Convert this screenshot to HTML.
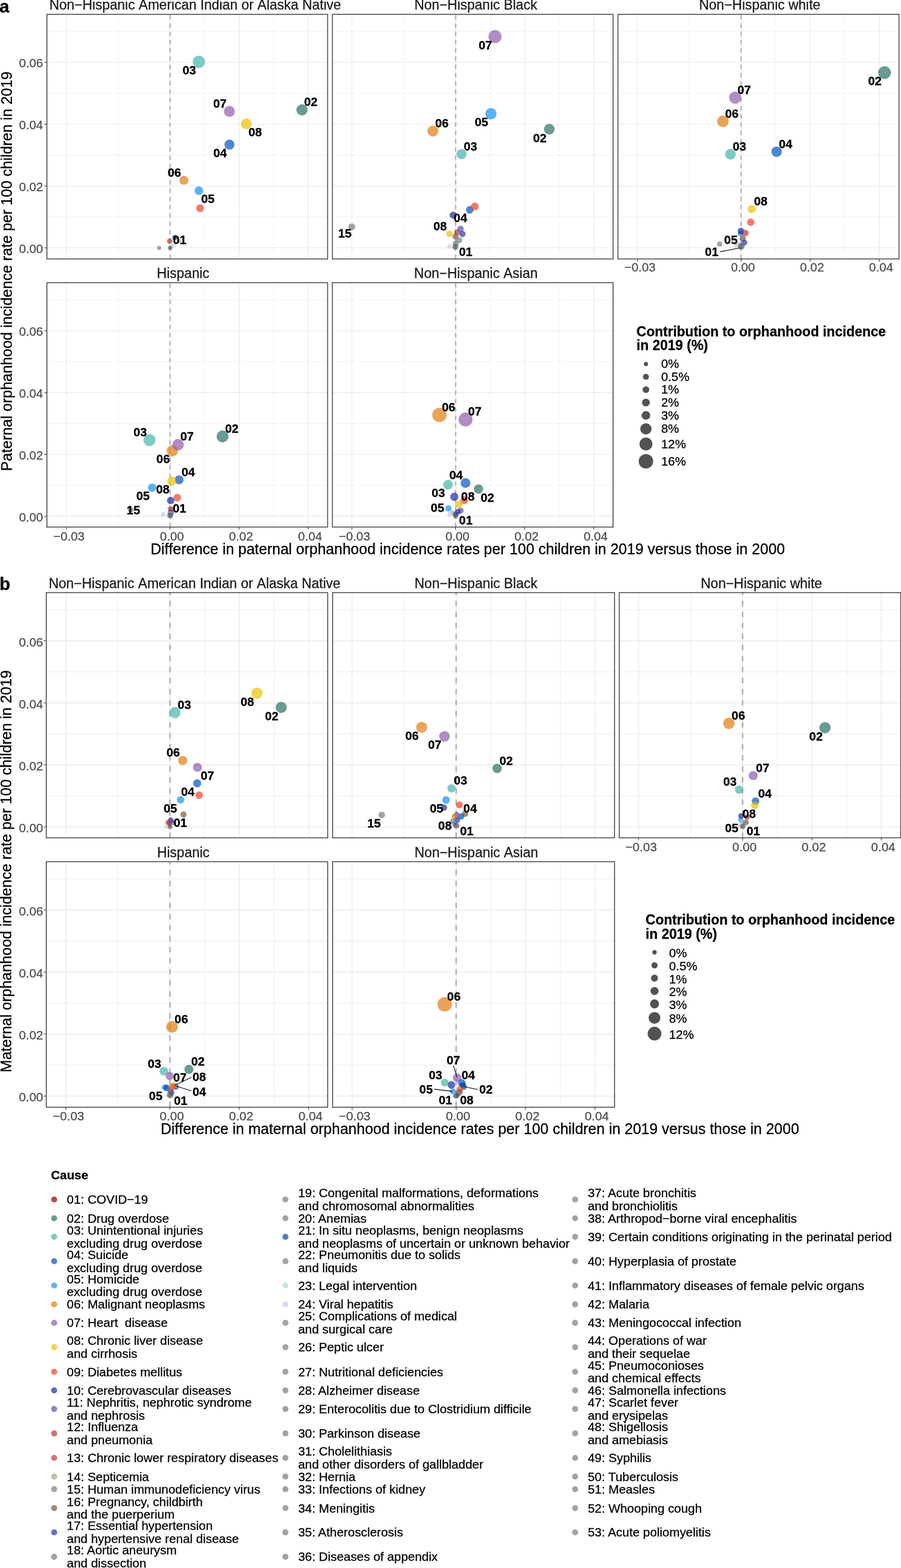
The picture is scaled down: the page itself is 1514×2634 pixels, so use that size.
<!DOCTYPE html>
<html lang="en"><head><meta charset="utf-8"><title>Orphanhood incidence by cause</title>
<style>html,body{margin:0;padding:0;background:#fff}body{width:1514px;height:2634px;overflow:hidden}svg{display:block}text{font-family:"Liberation Sans", Arial, Helvetica, sans-serif;font-kerning:none}.k{font-kerning:auto}</style>
</head><body>
<svg width="1514" height="2634" viewBox="0 0 1514 2634" font-family='"Liberation Sans", Arial, Helvetica, sans-serif'>
<rect width="1514" height="2634" fill="#fff"/>
<g>
<rect x="78.8" y="24.1" width="471.7" height="410.9" fill="#fff"/>
<path d="M78.8 364.38H550.5M78.8 260.54H550.5M78.8 156.7H550.5M78.8 52.86H550.5M198.62 24.1V435M343.75 24.1V435M459.85 24.1V435" stroke="#ebebeb" stroke-width="0.7" fill="none"/>
<path d="M78.8 416.3H550.5M78.8 312.46H550.5M78.8 208.62H550.5M78.8 104.78H550.5M111.55 24.1V435M285.7 24.1V435M401.8 24.1V435M517.9 24.1V435" stroke="#ebebeb" stroke-width="1.35" fill="none"/>
<path d="M285.8 24.1V435" stroke="#adadad" stroke-width="2.1" stroke-dasharray="7.45 6.42" stroke-dashoffset="-1.24" fill="none"/>
<circle cx="334.2" cy="103.8" r="10.4" fill="#44b5ac" fill-opacity="0.7"/>
<circle cx="385.4" cy="187" r="9.2" fill="#925bab" fill-opacity="0.7"/>
<circle cx="507.4" cy="184.6" r="9.4" fill="#2a6f65" fill-opacity="0.7"/>
<circle cx="413.8" cy="208.1" r="9" fill="#eebf00" fill-opacity="0.7"/>
<circle cx="385.6" cy="243" r="8.4" fill="#0455bc" fill-opacity="0.7"/>
<circle cx="309" cy="302.8" r="7.6" fill="#e27e10" fill-opacity="0.7"/>
<circle cx="334.2" cy="320.3" r="7.2" fill="#1692f4" fill-opacity="0.7"/>
<circle cx="336.2" cy="349.8" r="6.6" fill="#ee422c" fill-opacity="0.7"/>
<circle cx="300.5" cy="404.6" r="3.5" fill="#b29f8b" fill-opacity="0.7"/>
<circle cx="293.9" cy="398.9" r="4.5" fill="#1a2da1" fill-opacity="0.7"/>
<circle cx="285.2" cy="405" r="4.5" fill="#b83738" fill-opacity="0.7"/>
<circle cx="291.4" cy="412" r="4" fill="#acded1" fill-opacity="0.7"/>
<circle cx="267.3" cy="416.4" r="3.4" fill="#7c7c7c" fill-opacity="0.7"/>
<circle cx="285.9" cy="416.4" r="3.6" fill="#565656" fill-opacity="0.7"/>
<text x="306.7" y="125" font-size="20.4" fill="#000" stroke="#000" stroke-width="0.3" font-weight="bold">03</text>
<text x="358.2" y="180.8" font-size="20.4" fill="#000" stroke="#000" stroke-width="0.3" font-weight="bold">07</text>
<text x="511" y="178.3" font-size="20.4" fill="#000" stroke="#000" stroke-width="0.3" font-weight="bold">02</text>
<text x="417.5" y="229.3" font-size="20.4" fill="#000" stroke="#000" stroke-width="0.3" font-weight="bold">08</text>
<text x="358.5" y="264.3" font-size="20.4" fill="#000" stroke="#000" stroke-width="0.3" font-weight="bold">04</text>
<text x="281.7" y="296.8" font-size="20.4" fill="#000" stroke="#000" stroke-width="0.3" font-weight="bold">06</text>
<text x="338" y="341.3" font-size="20.4" fill="#000" stroke="#000" stroke-width="0.3" font-weight="bold">05</text>
<text x="290.6" y="410.1" font-size="20.4" fill="#000" stroke="#000" stroke-width="0.3" font-weight="bold">01</text>
<rect x="78.8" y="24.1" width="471.7" height="410.9" fill="none" stroke="#444444" stroke-width="1.5"/>
<text x="72.4" y="424.9" font-size="20.8" fill="#4d4d4d" stroke="#4d4d4d" stroke-width="0.3" text-anchor="end">0.00</text>
<text x="72.4" y="321.06" font-size="20.8" fill="#4d4d4d" stroke="#4d4d4d" stroke-width="0.3" text-anchor="end">0.02</text>
<text x="72.4" y="217.22" font-size="20.8" fill="#4d4d4d" stroke="#4d4d4d" stroke-width="0.3" text-anchor="end">0.04</text>
<text x="72.4" y="113.38" font-size="20.8" fill="#4d4d4d" stroke="#4d4d4d" stroke-width="0.3" text-anchor="end">0.06</text>
<path d="M74.4 416.3H78.8M74.4 312.46H78.8M74.4 208.62H78.8M74.4 104.78H78.8" stroke="#333333" stroke-width="1.1" fill="none"/>
</g>
<g>
<rect x="558.5" y="24.1" width="471.7" height="410.9" fill="#fff"/>
<path d="M558.5 364.38H1030.2M558.5 260.54H1030.2M558.5 156.7H1030.2M558.5 52.86H1030.2M678.42 24.1V435M823.55 24.1V435M939.65 24.1V435" stroke="#ebebeb" stroke-width="0.7" fill="none"/>
<path d="M558.5 416.3H1030.2M558.5 312.46H1030.2M558.5 208.62H1030.2M558.5 104.78H1030.2M591.35 24.1V435M765.5 24.1V435M881.6 24.1V435M997.7 24.1V435" stroke="#ebebeb" stroke-width="1.35" fill="none"/>
<path d="M765.6 24.1V435" stroke="#adadad" stroke-width="2.1" stroke-dasharray="7.45 6.42" stroke-dashoffset="-1.24" fill="none"/>
<circle cx="831.8" cy="61.5" r="11" fill="#925bab" fill-opacity="0.7"/>
<circle cx="825" cy="191" r="9.5" fill="#1692f4" fill-opacity="0.7"/>
<circle cx="727.5" cy="220.3" r="9.25" fill="#e27e10" fill-opacity="0.7"/>
<circle cx="923" cy="217" r="9" fill="#2a6f65" fill-opacity="0.7"/>
<circle cx="775.5" cy="259" r="8.5" fill="#44b5ac" fill-opacity="0.7"/>
<circle cx="789.3" cy="352.5" r="6.4" fill="#0455bc" fill-opacity="0.7"/>
<circle cx="797.8" cy="346.8" r="6.6" fill="#ee422c" fill-opacity="0.7"/>
<circle cx="761.5" cy="361.5" r="6" fill="#1a2da1" fill-opacity="0.7"/>
<circle cx="591.2" cy="381" r="5.8" fill="#7c7c7c" fill-opacity="0.7"/>
<circle cx="773.8" cy="384.4" r="5.5" fill="#5952b0" fill-opacity="0.7"/>
<circle cx="755.4" cy="392.6" r="5.4" fill="#eebf00" fill-opacity="0.7"/>
<circle cx="768" cy="390.3" r="5" fill="#b83738" fill-opacity="0.7"/>
<circle cx="777.1" cy="393.1" r="5.3" fill="#2737ab" fill-opacity="0.7"/>
<circle cx="765.6" cy="397.2" r="5.3" fill="#7c5942" fill-opacity="0.7"/>
<circle cx="771.9" cy="403.5" r="5" fill="#7c7c7c" fill-opacity="0.7"/>
<circle cx="765.9" cy="409.1" r="5" fill="#658380" fill-opacity="0.7"/>
<circle cx="755.4" cy="414.2" r="3.8" fill="#c9caea" fill-opacity="0.7"/>
<circle cx="765.1" cy="414.6" r="5" fill="#565656" fill-opacity="0.7"/>
<text x="804.2" y="82.5" font-size="20.4" fill="#000" stroke="#000" stroke-width="0.3" font-weight="bold">07</text>
<text x="797.7" y="212" font-size="20.4" fill="#000" stroke="#000" stroke-width="0.3" font-weight="bold">05</text>
<text x="731.2" y="214" font-size="20.4" fill="#000" stroke="#000" stroke-width="0.3" font-weight="bold">06</text>
<text x="779.2" y="252.5" font-size="20.4" fill="#000" stroke="#000" stroke-width="0.3" font-weight="bold">03</text>
<text x="895.7" y="238.5" font-size="20.4" fill="#000" stroke="#000" stroke-width="0.3" font-weight="bold">02</text>
<text x="762.3" y="373.4" font-size="20.4" fill="#000" stroke="#000" stroke-width="0.3" font-weight="bold">04</text>
<text x="728.2" y="386.5" font-size="20.4" fill="#000" stroke="#000" stroke-width="0.3" font-weight="bold">08</text>
<text x="568.2" y="399.4" font-size="20.4" fill="#000" stroke="#000" stroke-width="0.3" font-weight="bold">15</text>
<text x="771.2" y="429.7" font-size="20.4" fill="#000" stroke="#000" stroke-width="0.3" font-weight="bold">01</text>
<rect x="558.5" y="24.1" width="471.7" height="410.9" fill="none" stroke="#444444" stroke-width="1.5"/>
</g>
<g>
<rect x="1038.4" y="24.1" width="472.2" height="410.9" fill="#fff"/>
<path d="M1038.4 364.38H1510.6M1038.4 260.54H1510.6M1038.4 156.7H1510.6M1038.4 52.86H1510.6M1158.12 24.1V435M1303.25 24.1V435M1419.35 24.1V435" stroke="#ebebeb" stroke-width="0.7" fill="none"/>
<path d="M1038.4 416.3H1510.6M1038.4 312.46H1510.6M1038.4 208.62H1510.6M1038.4 104.78H1510.6M1071.05 24.1V435M1245.2 24.1V435M1361.3 24.1V435M1477.4 24.1V435" stroke="#ebebeb" stroke-width="1.35" fill="none"/>
<path d="M1245.3 24.1V435" stroke="#adadad" stroke-width="2.1" stroke-dasharray="7.45 6.42" stroke-dashoffset="-1.24" fill="none"/>
<circle cx="1486.3" cy="122" r="10.75" fill="#2a6f65" fill-opacity="0.7"/>
<circle cx="1235.3" cy="164" r="10.25" fill="#925bab" fill-opacity="0.7"/>
<circle cx="1214.8" cy="203.8" r="9.75" fill="#e27e10" fill-opacity="0.7"/>
<circle cx="1227.5" cy="259" r="8.9" fill="#44b5ac" fill-opacity="0.7"/>
<circle cx="1305" cy="254.8" r="8.9" fill="#0455bc" fill-opacity="0.7"/>
<circle cx="1263.2" cy="351.3" r="6.8" fill="#eebf00" fill-opacity="0.7"/>
<circle cx="1261.5" cy="373.3" r="6.2" fill="#ee422c" fill-opacity="0.7"/>
<circle cx="1244.8" cy="392.5" r="5" fill="#1692f4" fill-opacity="0.7"/>
<circle cx="1245" cy="388" r="5.5" fill="#1a2da1" fill-opacity="0.7"/>
<circle cx="1252.7" cy="391.4" r="5.3" fill="#b83738" fill-opacity="0.7"/>
<circle cx="1248.2" cy="400.7" r="5.3" fill="#7c5942" fill-opacity="0.7"/>
<circle cx="1251" cy="407.6" r="4.8" fill="#2737ab" fill-opacity="0.7"/>
<circle cx="1243.4" cy="411" r="4.5" fill="#95bad3" fill-opacity="0.7"/>
<circle cx="1237.6" cy="412.4" r="4" fill="#c9caea" fill-opacity="0.7"/>
<circle cx="1209.3" cy="410.1" r="4.5" fill="#7c7c7c" fill-opacity="0.7"/>
<circle cx="1245.7" cy="413.8" r="5.5" fill="#565656" fill-opacity="0.7"/>
<path d="M1209.9 422.9L1244.8 416.3" stroke="#000" stroke-width="1.1" fill="none"/>
<text x="1458.7" y="143.3" font-size="20.4" fill="#000" stroke="#000" stroke-width="0.3" font-weight="bold">02</text>
<text x="1239.2" y="158" font-size="20.4" fill="#000" stroke="#000" stroke-width="0.3" font-weight="bold">07</text>
<text x="1218.5" y="197.8" font-size="20.4" fill="#000" stroke="#000" stroke-width="0.3" font-weight="bold">06</text>
<text x="1231.2" y="253" font-size="20.4" fill="#000" stroke="#000" stroke-width="0.3" font-weight="bold">03</text>
<text x="1308.7" y="249" font-size="20.4" fill="#000" stroke="#000" stroke-width="0.3" font-weight="bold">04</text>
<text x="1267" y="344.7" font-size="20.4" fill="#000" stroke="#000" stroke-width="0.3" font-weight="bold">08</text>
<text x="1216.8" y="409.7" font-size="20.4" fill="#000" stroke="#000" stroke-width="0.3" font-weight="bold">05</text>
<text x="1184.6" y="430" font-size="20.4" fill="#000" stroke="#000" stroke-width="0.3" font-weight="bold">01</text>
<rect x="1038.4" y="24.1" width="472.2" height="410.9" fill="none" stroke="#444444" stroke-width="1.5"/>
<text x="1075.35" y="456" font-size="20.8" fill="#4d4d4d" stroke="#4d4d4d" stroke-width="0.3" text-anchor="middle">−0.03</text>
<text x="1248.4" y="456" font-size="20.8" fill="#4d4d4d" stroke="#4d4d4d" stroke-width="0.3" text-anchor="middle">0.00</text>
<text x="1364.5" y="456" font-size="20.8" fill="#4d4d4d" stroke="#4d4d4d" stroke-width="0.3" text-anchor="middle">0.02</text>
<text x="1480.6" y="456" font-size="20.8" fill="#4d4d4d" stroke="#4d4d4d" stroke-width="0.3" text-anchor="middle">0.04</text>
<path d="M1071.05 435V439.4M1245.2 435V439.4M1361.3 435V439.4M1477.4 435V439.4" stroke="#333333" stroke-width="1.1" fill="none"/>
</g>
<g>
<rect x="78.8" y="474.8" width="471.7" height="410.6" fill="#fff"/>
<path d="M78.8 815.28H550.5M78.8 711.44H550.5M78.8 607.6H550.5M78.8 503.76H550.5M198.62 474.8V885.4M343.75 474.8V885.4M459.85 474.8V885.4" stroke="#ebebeb" stroke-width="0.7" fill="none"/>
<path d="M78.8 867.2H550.5M78.8 763.36H550.5M78.8 659.52H550.5M78.8 555.68H550.5M111.55 474.8V885.4M285.7 474.8V885.4M401.8 474.8V885.4M517.9 474.8V885.4" stroke="#ebebeb" stroke-width="1.35" fill="none"/>
<path d="M285.8 474.8V885.4" stroke="#adadad" stroke-width="2.1" stroke-dasharray="7.45 6.42" stroke-dashoffset="-1.24" fill="none"/>
<circle cx="251.2" cy="739.3" r="10.1" fill="#44b5ac" fill-opacity="0.7"/>
<circle cx="374" cy="733.1" r="10.1" fill="#2a6f65" fill-opacity="0.7"/>
<circle cx="289.7" cy="757.3" r="9.5" fill="#e27e10" fill-opacity="0.7"/>
<circle cx="299.2" cy="747" r="9.7" fill="#925bab" fill-opacity="0.7"/>
<circle cx="301" cy="805.9" r="7.5" fill="#0455bc" fill-opacity="0.7"/>
<circle cx="288.7" cy="808.1" r="7.5" fill="#eebf00" fill-opacity="0.7"/>
<circle cx="255.8" cy="819.3" r="7.1" fill="#1692f4" fill-opacity="0.7"/>
<circle cx="298.1" cy="836" r="6.4" fill="#ee422c" fill-opacity="0.7"/>
<circle cx="286.8" cy="840.8" r="6.25" fill="#1a2da1" fill-opacity="0.7"/>
<circle cx="219.6" cy="856.7" r="4.8" fill="#7c7c7c" fill-opacity="0.7"/>
<circle cx="287" cy="855.2" r="5" fill="#b83738" fill-opacity="0.7"/>
<circle cx="287" cy="861.1" r="5.2" fill="#2737ab" fill-opacity="0.7"/>
<circle cx="274.2" cy="864.5" r="4" fill="#c9caea" fill-opacity="0.7"/>
<circle cx="286" cy="863" r="4.5" fill="#95bad3" fill-opacity="0.7"/>
<circle cx="286" cy="866" r="5" fill="#565656" fill-opacity="0.7"/>
<text x="224.2" y="733.2" font-size="20.4" fill="#000" stroke="#000" stroke-width="0.3" font-weight="bold">03</text>
<text x="378.2" y="726.6" font-size="20.4" fill="#000" stroke="#000" stroke-width="0.3" font-weight="bold">02</text>
<text x="302.9" y="740.4" font-size="20.4" fill="#000" stroke="#000" stroke-width="0.3" font-weight="bold">07</text>
<text x="262.8" y="778.1" font-size="20.4" fill="#000" stroke="#000" stroke-width="0.3" font-weight="bold">06</text>
<text x="305" y="799.7" font-size="20.4" fill="#000" stroke="#000" stroke-width="0.3" font-weight="bold">04</text>
<text x="262.2" y="829.4" font-size="20.4" fill="#000" stroke="#000" stroke-width="0.3" font-weight="bold">08</text>
<text x="228.9" y="840.1" font-size="20.4" fill="#000" stroke="#000" stroke-width="0.3" font-weight="bold">05</text>
<text x="212.8" y="864.3" font-size="20.4" fill="#000" stroke="#000" stroke-width="0.3" font-weight="bold">15</text>
<text x="290.2" y="860.7" font-size="20.4" fill="#000" stroke="#000" stroke-width="0.3" font-weight="bold">01</text>
<rect x="78.8" y="474.8" width="471.7" height="410.6" fill="none" stroke="#444444" stroke-width="1.5"/>
<text x="72.4" y="875.8" font-size="20.8" fill="#4d4d4d" stroke="#4d4d4d" stroke-width="0.3" text-anchor="end">0.00</text>
<text x="72.4" y="771.96" font-size="20.8" fill="#4d4d4d" stroke="#4d4d4d" stroke-width="0.3" text-anchor="end">0.02</text>
<text x="72.4" y="668.12" font-size="20.8" fill="#4d4d4d" stroke="#4d4d4d" stroke-width="0.3" text-anchor="end">0.04</text>
<text x="72.4" y="564.28" font-size="20.8" fill="#4d4d4d" stroke="#4d4d4d" stroke-width="0.3" text-anchor="end">0.06</text>
<path d="M74.4 867.2H78.8M74.4 763.36H78.8M74.4 659.52H78.8M74.4 555.68H78.8" stroke="#333333" stroke-width="1.1" fill="none"/>
<text x="115.85" y="907.6" font-size="20.8" fill="#4d4d4d" stroke="#4d4d4d" stroke-width="0.3" text-anchor="middle">−0.03</text>
<text x="288.9" y="907.6" font-size="20.8" fill="#4d4d4d" stroke="#4d4d4d" stroke-width="0.3" text-anchor="middle">0.00</text>
<text x="405" y="907.6" font-size="20.8" fill="#4d4d4d" stroke="#4d4d4d" stroke-width="0.3" text-anchor="middle">0.02</text>
<text x="521.1" y="907.6" font-size="20.8" fill="#4d4d4d" stroke="#4d4d4d" stroke-width="0.3" text-anchor="middle">0.04</text>
<path d="M111.55 885.4V889.8M285.7 885.4V889.8M401.8 885.4V889.8M517.9 885.4V889.8" stroke="#333333" stroke-width="1.1" fill="none"/>
</g>
<g>
<rect x="558.5" y="474.8" width="471.7" height="410.6" fill="#fff"/>
<path d="M558.5 815.28H1030.2M558.5 711.44H1030.2M558.5 607.6H1030.2M558.5 503.76H1030.2M678.42 474.8V885.4M823.55 474.8V885.4M939.65 474.8V885.4" stroke="#ebebeb" stroke-width="0.7" fill="none"/>
<path d="M558.5 867.2H1030.2M558.5 763.36H1030.2M558.5 659.52H1030.2M558.5 555.68H1030.2M591.35 474.8V885.4M765.5 474.8V885.4M881.6 474.8V885.4M997.7 474.8V885.4" stroke="#ebebeb" stroke-width="1.35" fill="none"/>
<path d="M765.6 474.8V885.4" stroke="#adadad" stroke-width="2.1" stroke-dasharray="7.45 6.42" stroke-dashoffset="-1.24" fill="none"/>
<circle cx="738.4" cy="697" r="12.1" fill="#e27e10" fill-opacity="0.7"/>
<circle cx="782.3" cy="704.8" r="11.7" fill="#925bab" fill-opacity="0.7"/>
<circle cx="782.3" cy="811.4" r="8.2" fill="#0455bc" fill-opacity="0.7"/>
<circle cx="752.9" cy="814.2" r="8.1" fill="#44b5ac" fill-opacity="0.7"/>
<circle cx="804" cy="821.6" r="7.8" fill="#2a6f65" fill-opacity="0.7"/>
<circle cx="763.4" cy="834.6" r="7" fill="#1a2da1" fill-opacity="0.7"/>
<circle cx="780" cy="840.5" r="6.5" fill="#ee422c" fill-opacity="0.7"/>
<circle cx="771" cy="847" r="6.3" fill="#eebf00" fill-opacity="0.7"/>
<circle cx="753.5" cy="854" r="5.4" fill="#1692f4" fill-opacity="0.7"/>
<circle cx="774.1" cy="857.7" r="5" fill="#5952b0" fill-opacity="0.7"/>
<circle cx="769.4" cy="859.8" r="5" fill="#2737ab" fill-opacity="0.7"/>
<circle cx="760" cy="861.8" r="4" fill="#b29f8b" fill-opacity="0.7"/>
<circle cx="766" cy="863.2" r="4.5" fill="#0445ab" fill-opacity="0.7"/>
<circle cx="755.9" cy="863.9" r="4" fill="#c9caea" fill-opacity="0.7"/>
<circle cx="765.5" cy="866.4" r="4.5" fill="#565656" fill-opacity="0.7"/>
<text x="742.5" y="690.8" font-size="20.4" fill="#000" stroke="#000" stroke-width="0.3" font-weight="bold">06</text>
<text x="786.5" y="698.4" font-size="20.4" fill="#000" stroke="#000" stroke-width="0.3" font-weight="bold">07</text>
<text x="754.9" y="805.1" font-size="20.4" fill="#000" stroke="#000" stroke-width="0.3" font-weight="bold">04</text>
<text x="725.2" y="834.8" font-size="20.4" fill="#000" stroke="#000" stroke-width="0.3" font-weight="bold">03</text>
<text x="774.8" y="840.5" font-size="20.4" fill="#000" stroke="#000" stroke-width="0.3" font-weight="bold">08</text>
<text x="807.7" y="842.6" font-size="20.4" fill="#000" stroke="#000" stroke-width="0.3" font-weight="bold">02</text>
<text x="723.8" y="859.8" font-size="20.4" fill="#000" stroke="#000" stroke-width="0.3" font-weight="bold">05</text>
<text x="771.3" y="881.1" font-size="20.4" fill="#000" stroke="#000" stroke-width="0.3" font-weight="bold">01</text>
<rect x="558.5" y="474.8" width="471.7" height="410.6" fill="none" stroke="#444444" stroke-width="1.5"/>
<text x="595.65" y="907.6" font-size="20.8" fill="#4d4d4d" stroke="#4d4d4d" stroke-width="0.3" text-anchor="middle">−0.03</text>
<text x="768.7" y="907.6" font-size="20.8" fill="#4d4d4d" stroke="#4d4d4d" stroke-width="0.3" text-anchor="middle">0.00</text>
<text x="884.8" y="907.6" font-size="20.8" fill="#4d4d4d" stroke="#4d4d4d" stroke-width="0.3" text-anchor="middle">0.02</text>
<text x="1000.9" y="907.6" font-size="20.8" fill="#4d4d4d" stroke="#4d4d4d" stroke-width="0.3" text-anchor="middle">0.04</text>
<path d="M591.35 885.4V889.8M765.5 885.4V889.8M881.6 885.4V889.8M997.7 885.4V889.8" stroke="#333333" stroke-width="1.1" fill="none"/>
</g>
<text x="82.9" y="16" font-size="23" fill="#1a1a1a" stroke="#1a1a1a" stroke-width="0.3">Non−Hispanic American Indian or Alaska Native</text>
<text x="696.2" y="16" font-size="23" fill="#1a1a1a" stroke="#1a1a1a" stroke-width="0.3">Non−Hispanic Black</text>
<text x="1174.7" y="16" font-size="23" fill="#1a1a1a" stroke="#1a1a1a" stroke-width="0.3">Non−Hispanic white</text>
<text x="263.6" y="467.2" font-size="23" fill="#1a1a1a" stroke="#1a1a1a" stroke-width="0.3">Hispanic</text>
<text x="695.8" y="467.2" font-size="23" fill="#1a1a1a" stroke="#1a1a1a" stroke-width="0.3">Non−Hispanic Asian</text>
<g>
<rect x="77.7" y="995.5" width="472.9" height="411.9" fill="#fff"/>
<path d="M77.7 1336.88H550.6M77.7 1232.76H550.6M77.7 1128.62H550.6M77.7 1024.49H550.6M198.08 995.5V1407.4M343.78 995.5V1407.4M460.34 995.5V1407.4" stroke="#eeeeee" stroke-width="1.15" fill="none"/>
<path d="M77.7 1388.95H550.6M77.7 1284.82H550.6M77.7 1180.69H550.6M77.7 1076.56H550.6M110.66 995.5V1407.4M285.5 995.5V1407.4M402.06 995.5V1407.4M518.62 995.5V1407.4" stroke="#ebebeb" stroke-width="1.5" fill="none"/>
<path d="M285.5 995.5V1407.4" stroke="#adadad" stroke-width="2.4" stroke-dasharray="9.3 9.24" stroke-dashoffset="5.1" fill="none"/>
<circle cx="431.8" cy="1164.5" r="9.5" fill="#eebf00" fill-opacity="0.7"/>
<circle cx="472.5" cy="1188.3" r="9.4" fill="#2a6f65" fill-opacity="0.7"/>
<circle cx="294" cy="1197" r="9.4" fill="#44b5ac" fill-opacity="0.7"/>
<circle cx="307" cy="1277.5" r="7.75" fill="#e27e10" fill-opacity="0.7"/>
<circle cx="331.8" cy="1289" r="7.5" fill="#925bab" fill-opacity="0.7"/>
<circle cx="331.3" cy="1315.8" r="6.9" fill="#0455bc" fill-opacity="0.7"/>
<circle cx="334.7" cy="1335.8" r="6.3" fill="#ee422c" fill-opacity="0.7"/>
<circle cx="303.4" cy="1343.6" r="6.2" fill="#1692f4" fill-opacity="0.7"/>
<circle cx="308.3" cy="1368.3" r="5.2" fill="#7c5942" fill-opacity="0.7"/>
<circle cx="291" cy="1382" r="4" fill="#5952b0" fill-opacity="0.7"/>
<circle cx="286.9" cy="1377.8" r="4.7" fill="#1a2da1" fill-opacity="0.7"/>
<circle cx="282.8" cy="1381.5" r="4.5" fill="#b83738" fill-opacity="0.7"/>
<circle cx="284.4" cy="1383.6" r="4" fill="#bf3736" fill-opacity="0.7"/>
<circle cx="279.9" cy="1388.5" r="3.6" fill="#c9caea" fill-opacity="0.7"/>
<circle cx="285.8" cy="1388.8" r="3.9" fill="#565656" fill-opacity="0.7"/>
<text x="404.2" y="1185.8" font-size="20.4" fill="#000" stroke="#000" stroke-width="0.3" font-weight="bold">08</text>
<text x="445.2" y="1209.5" font-size="20.4" fill="#000" stroke="#000" stroke-width="0.3" font-weight="bold">02</text>
<text x="298.5" y="1190.8" font-size="20.4" fill="#000" stroke="#000" stroke-width="0.3" font-weight="bold">03</text>
<text x="279.7" y="1270.8" font-size="20.4" fill="#000" stroke="#000" stroke-width="0.3" font-weight="bold">06</text>
<text x="337.2" y="1310" font-size="20.4" fill="#000" stroke="#000" stroke-width="0.3" font-weight="bold">07</text>
<text x="304.2" y="1336.5" font-size="20.4" fill="#000" stroke="#000" stroke-width="0.3" font-weight="bold">04</text>
<text x="275" y="1364.5" font-size="20.4" fill="#000" stroke="#000" stroke-width="0.3" font-weight="bold">05</text>
<text x="291.7" y="1389.4" font-size="20.4" fill="#000" stroke="#000" stroke-width="0.3" font-weight="bold">01</text>
<rect x="77.7" y="995.5" width="472.9" height="411.9" fill="none" stroke="#3d3d3d" stroke-width="1.45"/>
<text x="72.5" y="1398.05" font-size="21" fill="#4d4d4d" stroke="#4d4d4d" stroke-width="0.3" text-anchor="end">0.00</text>
<text x="72.5" y="1293.92" font-size="21" fill="#4d4d4d" stroke="#4d4d4d" stroke-width="0.3" text-anchor="end">0.02</text>
<text x="72.5" y="1189.79" font-size="21" fill="#4d4d4d" stroke="#4d4d4d" stroke-width="0.3" text-anchor="end">0.04</text>
<text x="72.5" y="1085.66" font-size="21" fill="#4d4d4d" stroke="#4d4d4d" stroke-width="0.3" text-anchor="end">0.06</text>
<path d="M73.3 1388.95H77.7M73.3 1284.82H77.7M73.3 1180.69H77.7M73.3 1076.56H77.7" stroke="#333333" stroke-width="1.1" fill="none"/>
</g>
<g>
<rect x="558.8" y="995.5" width="473.8" height="411.9" fill="#fff"/>
<path d="M558.8 1336.88H1032.6M558.8 1232.76H1032.6M558.8 1128.62H1032.6M558.8 1024.49H1032.6M679.08 995.5V1407.4M824.78 995.5V1407.4M941.34 995.5V1407.4" stroke="#eeeeee" stroke-width="1.15" fill="none"/>
<path d="M558.8 1388.95H1032.6M558.8 1284.82H1032.6M558.8 1180.69H1032.6M558.8 1076.56H1032.6M591.66 995.5V1407.4M766.5 995.5V1407.4M883.06 995.5V1407.4M999.62 995.5V1407.4" stroke="#ebebeb" stroke-width="1.5" fill="none"/>
<path d="M766.5 995.5V1407.4" stroke="#adadad" stroke-width="2.4" stroke-dasharray="9.3 9.24" stroke-dashoffset="5.1" fill="none"/>
<circle cx="708.5" cy="1221.8" r="9.25" fill="#e27e10" fill-opacity="0.7"/>
<circle cx="747" cy="1237" r="9" fill="#925bab" fill-opacity="0.7"/>
<circle cx="835.3" cy="1290.8" r="7.9" fill="#2a6f65" fill-opacity="0.7"/>
<circle cx="758.7" cy="1324.4" r="7" fill="#44b5ac" fill-opacity="0.7"/>
<circle cx="749.6" cy="1343.9" r="6.4" fill="#1692f4" fill-opacity="0.7"/>
<circle cx="772" cy="1352.1" r="5.9" fill="#ee422c" fill-opacity="0.7"/>
<circle cx="746" cy="1356.7" r="5.4" fill="#1a2da1" fill-opacity="0.7"/>
<circle cx="641.5" cy="1369" r="5.5" fill="#7c7c7c" fill-opacity="0.7"/>
<circle cx="781.4" cy="1366.9" r="5.4" fill="#7c5942" fill-opacity="0.7"/>
<circle cx="775" cy="1371.5" r="5.2" fill="#0455bc" fill-opacity="0.7"/>
<circle cx="767.6" cy="1369" r="5" fill="#5952b0" fill-opacity="0.7"/>
<circle cx="763.9" cy="1371.5" r="5" fill="#e27e10" fill-opacity="0.7"/>
<circle cx="768.4" cy="1377.7" r="4.8" fill="#2737ab" fill-opacity="0.7"/>
<circle cx="760.6" cy="1379" r="4" fill="#7c7c7c" fill-opacity="0.7"/>
<circle cx="763" cy="1384.3" r="3.5" fill="#0455bc" fill-opacity="0.7"/>
<circle cx="761.8" cy="1386.8" r="3.5" fill="#c9caea" fill-opacity="0.7"/>
<circle cx="766.8" cy="1387" r="5" fill="#565656" fill-opacity="0.7"/>
<text x="681" y="1242.5" font-size="20.4" fill="#000" stroke="#000" stroke-width="0.3" font-weight="bold">06</text>
<text x="719.2" y="1258" font-size="20.4" fill="#000" stroke="#000" stroke-width="0.3" font-weight="bold">07</text>
<text x="839.2" y="1284.5" font-size="20.4" fill="#000" stroke="#000" stroke-width="0.3" font-weight="bold">02</text>
<text x="762.5" y="1317.5" font-size="20.4" fill="#000" stroke="#000" stroke-width="0.3" font-weight="bold">03</text>
<text x="722.2" y="1364.8" font-size="20.4" fill="#000" stroke="#000" stroke-width="0.3" font-weight="bold">05</text>
<text x="778.6" y="1364.8" font-size="20.4" fill="#000" stroke="#000" stroke-width="0.3" font-weight="bold">04</text>
<text x="617.2" y="1390" font-size="20.4" fill="#000" stroke="#000" stroke-width="0.3" font-weight="bold">15</text>
<text x="736.3" y="1394" font-size="20.4" fill="#000" stroke="#000" stroke-width="0.3" font-weight="bold">08</text>
<text x="772.9" y="1402.8" font-size="20.4" fill="#000" stroke="#000" stroke-width="0.3" font-weight="bold">01</text>
<rect x="558.8" y="995.5" width="473.8" height="411.9" fill="none" stroke="#3d3d3d" stroke-width="1.45"/>
</g>
<g>
<rect x="1040.6" y="995.5" width="473" height="411.9" fill="#fff"/>
<path d="M1040.6 1336.88H1513.6M1040.6 1232.76H1513.6M1040.6 1128.62H1513.6M1040.6 1024.49H1513.6M1160.38 995.5V1407.4M1306.08 995.5V1407.4M1422.64 995.5V1407.4" stroke="#eeeeee" stroke-width="1.15" fill="none"/>
<path d="M1040.6 1388.95H1513.6M1040.6 1284.82H1513.6M1040.6 1180.69H1513.6M1040.6 1076.56H1513.6M1072.96 995.5V1407.4M1247.8 995.5V1407.4M1364.36 995.5V1407.4M1480.92 995.5V1407.4" stroke="#ebebeb" stroke-width="1.5" fill="none"/>
<path d="M1247.8 995.5V1407.4" stroke="#adadad" stroke-width="2.4" stroke-dasharray="9.3 9.24" stroke-dashoffset="5.1" fill="none"/>
<circle cx="1224.8" cy="1215.1" r="9.6" fill="#e27e10" fill-opacity="0.7"/>
<circle cx="1386.4" cy="1222.4" r="9.5" fill="#2a6f65" fill-opacity="0.7"/>
<circle cx="1265.7" cy="1302.9" r="7.6" fill="#925bab" fill-opacity="0.7"/>
<circle cx="1242.1" cy="1326.5" r="7" fill="#44b5ac" fill-opacity="0.7"/>
<circle cx="1269.6" cy="1345.7" r="6.3" fill="#0455bc" fill-opacity="0.7"/>
<circle cx="1268.3" cy="1353.1" r="6.2" fill="#eebf00" fill-opacity="0.7"/>
<circle cx="1244.8" cy="1377.2" r="4.5" fill="#1692f4" fill-opacity="0.7"/>
<circle cx="1245.4" cy="1370.6" r="4.7" fill="#1a2da1" fill-opacity="0.7"/>
<circle cx="1255.1" cy="1372.7" r="4.7" fill="#b83738" fill-opacity="0.7"/>
<circle cx="1246.9" cy="1380" r="4" fill="#95bad3" fill-opacity="0.7"/>
<circle cx="1253.5" cy="1381.7" r="4.8" fill="#7c5942" fill-opacity="0.7"/>
<circle cx="1243.6" cy="1386.3" r="4" fill="#c9caea" fill-opacity="0.7"/>
<circle cx="1248.1" cy="1388.3" r="4.5" fill="#565656" fill-opacity="0.7"/>
<text x="1229.3" y="1208.8" font-size="20.4" fill="#000" stroke="#000" stroke-width="0.3" font-weight="bold">06</text>
<text x="1359.8" y="1244.1" font-size="20.4" fill="#000" stroke="#000" stroke-width="0.3" font-weight="bold">02</text>
<text x="1270.2" y="1296.9" font-size="20.4" fill="#000" stroke="#000" stroke-width="0.3" font-weight="bold">07</text>
<text x="1215.2" y="1320.4" font-size="20.4" fill="#000" stroke="#000" stroke-width="0.3" font-weight="bold">03</text>
<text x="1274" y="1339.8" font-size="20.4" fill="#000" stroke="#000" stroke-width="0.3" font-weight="bold">04</text>
<text x="1247.5" y="1373.5" font-size="20.4" fill="#000" stroke="#000" stroke-width="0.3" font-weight="bold">08</text>
<text x="1218.2" y="1398" font-size="20.4" fill="#000" stroke="#000" stroke-width="0.3" font-weight="bold">05</text>
<text x="1254.4" y="1403.1" font-size="20.4" fill="#000" stroke="#000" stroke-width="0.3" font-weight="bold">01</text>
<rect x="1040.6" y="995.5" width="473" height="411.9" fill="none" stroke="#3d3d3d" stroke-width="1.45"/>
<text x="1077.26" y="1430" font-size="21" fill="#4d4d4d" stroke="#4d4d4d" stroke-width="0.3" text-anchor="middle">−0.03</text>
<text x="1251" y="1430" font-size="21" fill="#4d4d4d" stroke="#4d4d4d" stroke-width="0.3" text-anchor="middle">0.00</text>
<text x="1367.56" y="1430" font-size="21" fill="#4d4d4d" stroke="#4d4d4d" stroke-width="0.3" text-anchor="middle">0.02</text>
<text x="1484.12" y="1430" font-size="21" fill="#4d4d4d" stroke="#4d4d4d" stroke-width="0.3" text-anchor="middle">0.04</text>
<path d="M1072.96 1407.4V1411.8M1247.8 1407.4V1411.8M1364.36 1407.4V1411.8M1480.92 1407.4V1411.8" stroke="#333333" stroke-width="1.1" fill="none"/>
</g>
<g>
<rect x="77.7" y="1447.5" width="472.9" height="412.45" fill="#fff"/>
<path d="M77.7 1789.13H550.6M77.7 1685.01H550.6M77.7 1580.88H550.6M77.7 1476.74H550.6M198.08 1447.5V1859.95M343.78 1447.5V1859.95M460.34 1447.5V1859.95" stroke="#eeeeee" stroke-width="1.15" fill="none"/>
<path d="M77.7 1841.2H550.6M77.7 1737.07H550.6M77.7 1632.94H550.6M77.7 1528.81H550.6M110.66 1447.5V1859.95M285.5 1447.5V1859.95M402.06 1447.5V1859.95M518.62 1447.5V1859.95" stroke="#ebebeb" stroke-width="1.5" fill="none"/>
<path d="M285.5 1447.5V1859.95" stroke="#adadad" stroke-width="2.4" stroke-dasharray="9.3 9.24" stroke-dashoffset="5.1" fill="none"/>
<circle cx="289" cy="1725" r="10" fill="#e27e10" fill-opacity="0.7"/>
<circle cx="317.4" cy="1796.3" r="7.6" fill="#2a6f65" fill-opacity="0.7"/>
<circle cx="275.3" cy="1799.5" r="7.3" fill="#44b5ac" fill-opacity="0.7"/>
<circle cx="284.9" cy="1807.5" r="6.8" fill="#925bab" fill-opacity="0.7"/>
<circle cx="295.5" cy="1825.6" r="5" fill="#0455bc" fill-opacity="0.7"/>
<circle cx="291.3" cy="1822.9" r="5.5" fill="#eebf00" fill-opacity="0.7"/>
<circle cx="290.4" cy="1825.6" r="5.5" fill="#ee422c" fill-opacity="0.7"/>
<circle cx="276.9" cy="1826.7" r="5" fill="#1692f4" fill-opacity="0.7"/>
<circle cx="280.1" cy="1827.3" r="5.5" fill="#0445ab" fill-opacity="0.7"/>
<circle cx="286.8" cy="1833.8" r="5.5" fill="#7c5942" fill-opacity="0.7"/>
<circle cx="287.9" cy="1835.9" r="5" fill="#5952b0" fill-opacity="0.7"/>
<circle cx="282.4" cy="1839.3" r="4" fill="#c9caea" fill-opacity="0.7"/>
<circle cx="285.9" cy="1840" r="5" fill="#565656" fill-opacity="0.7"/>
<path d="M321.6 1809.8L293.4 1822.9" stroke="#000" stroke-width="1.1" fill="none"/>
<path d="M321.6 1832.5L296.2 1824.5" stroke="#000" stroke-width="1.1" fill="none"/>
<text x="293.3" y="1718.9" font-size="20.4" fill="#000" stroke="#000" stroke-width="0.3" font-weight="bold">06</text>
<text x="321.2" y="1789.9" font-size="20.4" fill="#000" stroke="#000" stroke-width="0.3" font-weight="bold">02</text>
<text x="248.2" y="1794" font-size="20.4" fill="#000" stroke="#000" stroke-width="0.3" font-weight="bold">03</text>
<text x="291" y="1817" font-size="20.4" fill="#000" stroke="#000" stroke-width="0.3" font-weight="bold">07</text>
<text x="323.5" y="1816.3" font-size="20.4" fill="#000" stroke="#000" stroke-width="0.3" font-weight="bold">08</text>
<text x="323.5" y="1840.7" font-size="20.4" fill="#000" stroke="#000" stroke-width="0.3" font-weight="bold">04</text>
<text x="250.3" y="1848" font-size="20.4" fill="#000" stroke="#000" stroke-width="0.3" font-weight="bold">05</text>
<text x="292.2" y="1855.8" font-size="20.4" fill="#000" stroke="#000" stroke-width="0.3" font-weight="bold">01</text>
<rect x="77.7" y="1447.5" width="472.9" height="412.45" fill="none" stroke="#3d3d3d" stroke-width="1.45"/>
<text x="72.5" y="1850.1" font-size="21" fill="#4d4d4d" stroke="#4d4d4d" stroke-width="0.3" text-anchor="end">0.00</text>
<text x="72.5" y="1745.97" font-size="21" fill="#4d4d4d" stroke="#4d4d4d" stroke-width="0.3" text-anchor="end">0.02</text>
<text x="72.5" y="1641.84" font-size="21" fill="#4d4d4d" stroke="#4d4d4d" stroke-width="0.3" text-anchor="end">0.04</text>
<text x="72.5" y="1537.71" font-size="21" fill="#4d4d4d" stroke="#4d4d4d" stroke-width="0.3" text-anchor="end">0.06</text>
<path d="M73.3 1841.2H77.7M73.3 1737.07H77.7M73.3 1632.94H77.7M73.3 1528.81H77.7" stroke="#333333" stroke-width="1.1" fill="none"/>
<text x="114.96" y="1881.9" font-size="21" fill="#4d4d4d" stroke="#4d4d4d" stroke-width="0.3" text-anchor="middle">−0.03</text>
<text x="288.7" y="1881.9" font-size="21" fill="#4d4d4d" stroke="#4d4d4d" stroke-width="0.3" text-anchor="middle">0.00</text>
<text x="405.26" y="1881.9" font-size="21" fill="#4d4d4d" stroke="#4d4d4d" stroke-width="0.3" text-anchor="middle">0.02</text>
<text x="521.82" y="1881.9" font-size="21" fill="#4d4d4d" stroke="#4d4d4d" stroke-width="0.3" text-anchor="middle">0.04</text>
<path d="M110.66 1859.95V1864.35M285.5 1859.95V1864.35M402.06 1859.95V1864.35M518.62 1859.95V1864.35" stroke="#333333" stroke-width="1.1" fill="none"/>
</g>
<g>
<rect x="558.8" y="1447.5" width="473.8" height="412.45" fill="#fff"/>
<path d="M558.8 1789.13H1032.6M558.8 1685.01H1032.6M558.8 1580.88H1032.6M558.8 1476.74H1032.6M679.08 1447.5V1859.95M824.78 1447.5V1859.95M941.34 1447.5V1859.95" stroke="#eeeeee" stroke-width="1.15" fill="none"/>
<path d="M558.8 1841.2H1032.6M558.8 1737.07H1032.6M558.8 1632.94H1032.6M558.8 1528.81H1032.6M591.66 1447.5V1859.95M766.5 1447.5V1859.95M883.06 1447.5V1859.95M999.62 1447.5V1859.95" stroke="#ebebeb" stroke-width="1.5" fill="none"/>
<path d="M766.5 1447.5V1859.95" stroke="#adadad" stroke-width="2.4" stroke-dasharray="9.3 9.24" stroke-dashoffset="5.1" fill="none"/>
<circle cx="747.3" cy="1687.1" r="12.2" fill="#e27e10" fill-opacity="0.7"/>
<circle cx="768.2" cy="1810.4" r="7.2" fill="#925bab" fill-opacity="0.7"/>
<circle cx="747.3" cy="1818.7" r="6.5" fill="#44b5ac" fill-opacity="0.7"/>
<circle cx="758.6" cy="1822.5" r="6.4" fill="#1a2da1" fill-opacity="0.7"/>
<circle cx="779.2" cy="1825.5" r="5.5" fill="#2a6f65" fill-opacity="0.7"/>
<circle cx="775.9" cy="1819.3" r="6.5" fill="#0455bc" fill-opacity="0.7"/>
<circle cx="777.5" cy="1822.8" r="5" fill="#0445ab" fill-opacity="0.7"/>
<circle cx="772.7" cy="1830.3" r="5.5" fill="#ee422c" fill-opacity="0.7"/>
<circle cx="761" cy="1833.4" r="5" fill="#1692f4" fill-opacity="0.7"/>
<circle cx="771.8" cy="1835.1" r="5.5" fill="#7c5942" fill-opacity="0.7"/>
<circle cx="767.9" cy="1839.9" r="4" fill="#2737ab" fill-opacity="0.7"/>
<circle cx="763.1" cy="1840.2" r="3.5" fill="#c9caea" fill-opacity="0.7"/>
<circle cx="766.3" cy="1841" r="4.5" fill="#565656" fill-opacity="0.7"/>
<path d="M762 1790.2L767.9 1809.7" stroke="#000" stroke-width="1.1" fill="none"/>
<path d="M729.7 1829.6L760.4 1833.4" stroke="#000" stroke-width="1.1" fill="none"/>
<path d="M803.4 1830.3L779.6 1825.5" stroke="#000" stroke-width="1.1" fill="none"/>
<text x="751.3" y="1681.3" font-size="20.4" fill="#000" stroke="#000" stroke-width="0.3" font-weight="bold">06</text>
<text x="750.4" y="1788.4" font-size="20.4" fill="#000" stroke="#000" stroke-width="0.3" font-weight="bold">07</text>
<text x="720.4" y="1812.5" font-size="20.4" fill="#000" stroke="#000" stroke-width="0.3" font-weight="bold">03</text>
<text x="775.4" y="1812.5" font-size="20.4" fill="#000" stroke="#000" stroke-width="0.3" font-weight="bold">04</text>
<text x="704.6" y="1837.2" font-size="20.4" fill="#000" stroke="#000" stroke-width="0.3" font-weight="bold">05</text>
<text x="805.2" y="1836.9" font-size="20.4" fill="#000" stroke="#000" stroke-width="0.3" font-weight="bold">02</text>
<text x="737.2" y="1855.1" font-size="20.4" fill="#000" stroke="#000" stroke-width="0.3" font-weight="bold">01</text>
<text x="773" y="1855.1" font-size="20.4" fill="#000" stroke="#000" stroke-width="0.3" font-weight="bold">08</text>
<rect x="558.8" y="1447.5" width="473.8" height="412.45" fill="none" stroke="#3d3d3d" stroke-width="1.45"/>
<text x="595.96" y="1881.9" font-size="21" fill="#4d4d4d" stroke="#4d4d4d" stroke-width="0.3" text-anchor="middle">−0.03</text>
<text x="769.7" y="1881.9" font-size="21" fill="#4d4d4d" stroke="#4d4d4d" stroke-width="0.3" text-anchor="middle">0.00</text>
<text x="886.26" y="1881.9" font-size="21" fill="#4d4d4d" stroke="#4d4d4d" stroke-width="0.3" text-anchor="middle">0.02</text>
<text x="1002.82" y="1881.9" font-size="21" fill="#4d4d4d" stroke="#4d4d4d" stroke-width="0.3" text-anchor="middle">0.04</text>
<path d="M591.66 1859.95V1864.35M766.5 1859.95V1864.35M883.06 1859.95V1864.35M999.62 1859.95V1864.35" stroke="#333333" stroke-width="1.1" fill="none"/>
</g>
<text x="81.9" y="987.9" font-size="23" fill="#1a1a1a" stroke="#1a1a1a" stroke-width="0.3">Non−Hispanic American Indian or Alaska Native</text>
<text x="696.5" y="987.9" font-size="23" fill="#1a1a1a" stroke="#1a1a1a" stroke-width="0.3">Non−Hispanic Black</text>
<text x="1177.5" y="987.9" font-size="23" fill="#1a1a1a" stroke="#1a1a1a" stroke-width="0.3">Non−Hispanic white</text>
<text x="263.9" y="1440.3" font-size="23" fill="#1a1a1a" stroke="#1a1a1a" stroke-width="0.3">Hispanic</text>
<text x="696.5" y="1440.3" font-size="23" fill="#1a1a1a" stroke="#1a1a1a" stroke-width="0.3">Non−Hispanic Asian</text>
<text x="-1" y="21.4" font-size="30" fill="#000" stroke="#000" stroke-width="0.3" font-weight="bold">a</text>
<text x="-1.1" y="991.4" font-size="30" fill="#000" stroke="#000" stroke-width="0.3" font-weight="bold">b</text>
<text x="253" y="930.8" font-size="25" fill="#000" stroke="#000" stroke-width="0.3">Difference in paternal orphanhood incidence rates per 100 children in 2019 versus those in 2000</text>
<text x="269.9" y="1904.6" font-size="25" fill="#000" stroke="#000" stroke-width="0.3">Difference in maternal orphanhood incidence rates per 100 children in 2019 versus those in 2000</text>
<text transform="translate(19.5 791.3) rotate(-90)" font-size="25" fill="#000" stroke="#000" stroke-width="0.3">Paternal orphanhood incidence rate per 100 children in 2019</text>
<text transform="translate(18.9 1801.2) rotate(-90)" font-size="25" fill="#000" stroke="#000" stroke-width="0.3">Maternal orphanhood incidence rate per 100 children in 2019</text>
<text x="1069.6" y="565.2" font-size="23" fill="#000" stroke="#000" stroke-width="0.3" font-weight="bold">Contribution to orphanhood incidence</text>
<text x="1069.6" y="587.7" font-size="23" fill="#000" stroke="#000" stroke-width="0.3" font-weight="bold">in 2019 (%)</text>
<circle cx="1085.4" cy="611.4" r="3.5" fill="#525252"/>
<text x="1111" y="618.2" font-size="20.8" fill="#000" stroke="#000" stroke-width="0.3">0%</text>
<circle cx="1085.4" cy="633" r="5" fill="#525252"/>
<text x="1111" y="639.8" font-size="20.8" fill="#000" stroke="#000" stroke-width="0.3">0.5%</text>
<circle cx="1085.4" cy="654.5" r="5.6" fill="#525252"/>
<text x="1111" y="661.3" font-size="20.8" fill="#000" stroke="#000" stroke-width="0.3">1%</text>
<circle cx="1085.4" cy="676.2" r="6.5" fill="#525252"/>
<text x="1111" y="682.9" font-size="20.8" fill="#000" stroke="#000" stroke-width="0.3">2%</text>
<circle cx="1085.4" cy="697.8" r="7.3" fill="#525252"/>
<text x="1111" y="704.7" font-size="20.8" fill="#000" stroke="#000" stroke-width="0.3">3%</text>
<circle cx="1085.4" cy="720.4" r="9.5" fill="#525252"/>
<text x="1111" y="727" font-size="20.8" fill="#000" stroke="#000" stroke-width="0.3">8%</text>
<circle cx="1085.4" cy="745.9" r="10.8" fill="#525252"/>
<text x="1111" y="752.7" font-size="20.8" fill="#000" stroke="#000" stroke-width="0.3">12%</text>
<circle cx="1085.4" cy="774.9" r="12.15" fill="#525252"/>
<text x="1111" y="781.7" font-size="20.8" fill="#000" stroke="#000" stroke-width="0.3">16%</text>
<text x="1084.8" y="1553.2" font-size="23" fill="#000" stroke="#000" stroke-width="0.3" font-weight="bold">Contribution to orphanhood incidence</text>
<text x="1084.8" y="1576.7" font-size="23" fill="#000" stroke="#000" stroke-width="0.3" font-weight="bold">in 2019 (%)</text>
<circle cx="1099.8" cy="1599.8" r="3.7" fill="#525252"/>
<text x="1124.3" y="1608.1" font-size="20.8" fill="#000" stroke="#000" stroke-width="0.3">0%</text>
<circle cx="1099.8" cy="1621.5" r="5.15" fill="#525252"/>
<text x="1124.3" y="1629.7" font-size="20.8" fill="#000" stroke="#000" stroke-width="0.3">0.5%</text>
<circle cx="1099.8" cy="1643.1" r="5.9" fill="#525252"/>
<text x="1124.3" y="1651.6" font-size="20.8" fill="#000" stroke="#000" stroke-width="0.3">1%</text>
<circle cx="1099.8" cy="1664.7" r="6.8" fill="#525252"/>
<text x="1124.3" y="1673.2" font-size="20.8" fill="#000" stroke="#000" stroke-width="0.3">2%</text>
<circle cx="1099.8" cy="1686.4" r="7.6" fill="#525252"/>
<text x="1124.3" y="1694.8" font-size="20.8" fill="#000" stroke="#000" stroke-width="0.3">3%</text>
<circle cx="1099.8" cy="1709.8" r="9.9" fill="#525252"/>
<text x="1124.3" y="1718" font-size="20.8" fill="#000" stroke="#000" stroke-width="0.3">8%</text>
<circle cx="1099.8" cy="1736.3" r="11.5" fill="#525252"/>
<text x="1124.3" y="1744.8" font-size="20.8" fill="#000" stroke="#000" stroke-width="0.3">12%</text>
<text x="85.8" y="1980.9" font-size="20.8" fill="#000" stroke="#000" stroke-width="0.3" font-weight="bold">Cause</text>
<circle cx="91" cy="2015" r="5.1" fill="#900000" fill-opacity="0.7"/>
<text x="112.3" y="2022.2" font-size="20.9" fill="#000" stroke="#000" stroke-width="0.3" class="k" xml:space="preserve">01: COVID−19</text>
<circle cx="91" cy="2046.5" r="5.1" fill="#2a6f65" fill-opacity="0.7"/>
<text x="112.3" y="2053.7" font-size="20.9" fill="#000" stroke="#000" stroke-width="0.3" class="k" xml:space="preserve">02: Drug overdose</text>
<circle cx="91" cy="2077.6" r="5.1" fill="#44b5ac" fill-opacity="0.7"/>
<text x="112.3" y="2073.8" font-size="20.9" fill="#000" stroke="#000" stroke-width="0.3" class="k">03: Unintentional injuries</text>
<text x="112.3" y="2095.5" font-size="20.9" fill="#000" stroke="#000" stroke-width="0.3" class="k">excluding drug overdose</text>
<circle cx="91" cy="2118.7" r="5.1" fill="#0455bc" fill-opacity="0.7"/>
<text x="112.3" y="2114.9" font-size="20.9" fill="#000" stroke="#000" stroke-width="0.3" class="k">04: Suicide</text>
<text x="112.3" y="2136.6" font-size="20.9" fill="#000" stroke="#000" stroke-width="0.3" class="k">excluding drug overdose</text>
<circle cx="91" cy="2159.5" r="5.1" fill="#1692f4" fill-opacity="0.7"/>
<text x="112.3" y="2155.7" font-size="20.9" fill="#000" stroke="#000" stroke-width="0.3" class="k">05: Homicide</text>
<text x="112.3" y="2177.4" font-size="20.9" fill="#000" stroke="#000" stroke-width="0.3" class="k">excluding drug overdose</text>
<circle cx="91" cy="2191.1" r="5.1" fill="#e27e10" fill-opacity="0.7"/>
<text x="112.3" y="2198.3" font-size="20.9" fill="#000" stroke="#000" stroke-width="0.3" class="k" xml:space="preserve">06: Malignant neoplasms</text>
<circle cx="91" cy="2222.2" r="5.1" fill="#925bab" fill-opacity="0.7"/>
<text x="112.3" y="2229.4" font-size="20.9" fill="#000" stroke="#000" stroke-width="0.3" class="k" xml:space="preserve">07: Heart  disease</text>
<circle cx="91" cy="2263.1" r="5.1" fill="#eebf00" fill-opacity="0.7"/>
<text x="112.3" y="2259.3" font-size="20.9" fill="#000" stroke="#000" stroke-width="0.3" class="k">08: Chronic liver disease</text>
<text x="112.3" y="2281" font-size="20.9" fill="#000" stroke="#000" stroke-width="0.3" class="k">and cirrhosis</text>
<circle cx="91" cy="2304.3" r="5.1" fill="#ee422c" fill-opacity="0.7"/>
<text x="112.3" y="2311.5" font-size="20.9" fill="#000" stroke="#000" stroke-width="0.3" class="k" xml:space="preserve">09: Diabetes mellitus</text>
<circle cx="91" cy="2335.6" r="5.1" fill="#1a2da1" fill-opacity="0.7"/>
<text x="112.3" y="2342.8" font-size="20.9" fill="#000" stroke="#000" stroke-width="0.3" class="k" xml:space="preserve">10: Cerebrovascular diseases</text>
<circle cx="91" cy="2366.8" r="5.1" fill="#5952b0" fill-opacity="0.7"/>
<text x="112.3" y="2363" font-size="20.9" fill="#000" stroke="#000" stroke-width="0.3" class="k">11: Nephritis, nephrotic syndrome</text>
<text x="112.3" y="2384.7" font-size="20.9" fill="#000" stroke="#000" stroke-width="0.3" class="k">and nephrosis</text>
<circle cx="91" cy="2407.9" r="5.1" fill="#b83738" fill-opacity="0.7"/>
<text x="112.3" y="2404.1" font-size="20.9" fill="#000" stroke="#000" stroke-width="0.3" class="k">12: Influenza</text>
<text x="112.3" y="2425.8" font-size="20.9" fill="#000" stroke="#000" stroke-width="0.3" class="k">and pneumonia</text>
<circle cx="91" cy="2449" r="5.1" fill="#bf3736" fill-opacity="0.7"/>
<text x="112.3" y="2456.2" font-size="20.9" fill="#000" stroke="#000" stroke-width="0.3" class="k" xml:space="preserve">13: Chronic lower respiratory diseases</text>
<circle cx="91" cy="2480.4" r="5.1" fill="#b29f8b" fill-opacity="0.7"/>
<text x="112.3" y="2487.6" font-size="20.9" fill="#000" stroke="#000" stroke-width="0.3" class="k" xml:space="preserve">14: Septicemia</text>
<circle cx="91" cy="2501.6" r="5.1" fill="#7c7c7c" fill-opacity="0.7"/>
<text x="112.3" y="2508.8" font-size="20.9" fill="#000" stroke="#000" stroke-width="0.3" class="k" xml:space="preserve">15: Human immunodeficiency virus</text>
<circle cx="91" cy="2533.3" r="5.1" fill="#7c5942" fill-opacity="0.7"/>
<text x="112.3" y="2529.5" font-size="20.9" fill="#000" stroke="#000" stroke-width="0.3" class="k">16: Pregnancy, childbirth</text>
<text x="112.3" y="2551.2" font-size="20.9" fill="#000" stroke="#000" stroke-width="0.3" class="k">and the puerperium</text>
<circle cx="91" cy="2574.2" r="5.1" fill="#2737ab" fill-opacity="0.7"/>
<text x="112.3" y="2570.4" font-size="20.9" fill="#000" stroke="#000" stroke-width="0.3" class="k">17: Essential hypertension</text>
<text x="112.3" y="2592.1" font-size="20.9" fill="#000" stroke="#000" stroke-width="0.3" class="k">and hypertensive renal disease</text>
<circle cx="91" cy="2615.2" r="5.1" fill="#7c7c7c" fill-opacity="0.7"/>
<text x="112.3" y="2611.4" font-size="20.9" fill="#000" stroke="#000" stroke-width="0.3" class="k">18: Aortic aneurysm</text>
<text x="112.3" y="2633.1" font-size="20.9" fill="#000" stroke="#000" stroke-width="0.3" class="k">and dissection</text>
<circle cx="479.6" cy="2015" r="5.1" fill="#7c7c7c" fill-opacity="0.7"/>
<text x="500.9" y="2011.2" font-size="20.9" fill="#000" stroke="#000" stroke-width="0.3" class="k">19: Congenital malformations, deformations</text>
<text x="500.9" y="2032.9" font-size="20.9" fill="#000" stroke="#000" stroke-width="0.3" class="k">and chromosomal abnormalities</text>
<circle cx="479.6" cy="2046.5" r="5.1" fill="#7c7c7c" fill-opacity="0.7"/>
<text x="500.9" y="2053.7" font-size="20.9" fill="#000" stroke="#000" stroke-width="0.3" class="k" xml:space="preserve">20: Anemias</text>
<circle cx="479.6" cy="2077.6" r="5.1" fill="#0445ab" fill-opacity="0.7"/>
<text x="500.9" y="2073.8" font-size="20.9" fill="#000" stroke="#000" stroke-width="0.3" class="k">21: In situ neoplasms, benign neoplasms</text>
<text x="500.9" y="2095.5" font-size="20.9" fill="#000" stroke="#000" stroke-width="0.3" class="k">and neoplasms of uncertain or unknown behavior</text>
<circle cx="479.6" cy="2118.7" r="5.1" fill="#7c7c7c" fill-opacity="0.7"/>
<text x="500.9" y="2114.9" font-size="20.9" fill="#000" stroke="#000" stroke-width="0.3" class="k">22: Pneumonitis due to solids</text>
<text x="500.9" y="2136.6" font-size="20.9" fill="#000" stroke="#000" stroke-width="0.3" class="k">and liquids</text>
<circle cx="479.6" cy="2159.5" r="5.1" fill="#acded1" fill-opacity="0.7"/>
<text x="500.9" y="2166.7" font-size="20.9" fill="#000" stroke="#000" stroke-width="0.3" class="k" xml:space="preserve">23: Legal intervention</text>
<circle cx="479.6" cy="2191.1" r="5.1" fill="#c9caea" fill-opacity="0.7"/>
<text x="500.9" y="2198.3" font-size="20.9" fill="#000" stroke="#000" stroke-width="0.3" class="k" xml:space="preserve">24: Viral hepatitis</text>
<circle cx="479.6" cy="2222.2" r="5.1" fill="#7c7c7c" fill-opacity="0.7"/>
<text x="500.9" y="2218.4" font-size="20.9" fill="#000" stroke="#000" stroke-width="0.3" class="k">25: Complications of medical</text>
<text x="500.9" y="2240.1" font-size="20.9" fill="#000" stroke="#000" stroke-width="0.3" class="k">and surgical care</text>
<circle cx="479.6" cy="2263.1" r="5.1" fill="#7c7c7c" fill-opacity="0.7"/>
<text x="500.9" y="2270.3" font-size="20.9" fill="#000" stroke="#000" stroke-width="0.3" class="k" xml:space="preserve">26: Peptic ulcer</text>
<circle cx="479.6" cy="2304.3" r="5.1" fill="#7c7c7c" fill-opacity="0.7"/>
<text x="500.9" y="2311.5" font-size="20.9" fill="#000" stroke="#000" stroke-width="0.3" class="k" xml:space="preserve">27: Nutritional deficiencies</text>
<circle cx="479.6" cy="2335.6" r="5.1" fill="#7c7c7c" fill-opacity="0.7"/>
<text x="500.9" y="2342.8" font-size="20.9" fill="#000" stroke="#000" stroke-width="0.3" class="k" xml:space="preserve">28: Alzheimer disease</text>
<circle cx="479.6" cy="2366.8" r="5.1" fill="#7c7c7c" fill-opacity="0.7"/>
<text x="500.9" y="2374" font-size="20.9" fill="#000" stroke="#000" stroke-width="0.3" class="k" xml:space="preserve">29: Enterocolitis due to Clostridium difficile</text>
<circle cx="479.6" cy="2407.9" r="5.1" fill="#7c7c7c" fill-opacity="0.7"/>
<text x="500.9" y="2415.1" font-size="20.9" fill="#000" stroke="#000" stroke-width="0.3" class="k" xml:space="preserve">30: Parkinson disease</text>
<circle cx="479.6" cy="2449" r="5.1" fill="#7c7c7c" fill-opacity="0.7"/>
<text x="500.9" y="2445.2" font-size="20.9" fill="#000" stroke="#000" stroke-width="0.3" class="k">31: Cholelithiasis</text>
<text x="500.9" y="2466.9" font-size="20.9" fill="#000" stroke="#000" stroke-width="0.3" class="k">and other disorders of gallbladder</text>
<circle cx="479.6" cy="2480.4" r="5.1" fill="#7c7c7c" fill-opacity="0.7"/>
<text x="500.9" y="2487.6" font-size="20.9" fill="#000" stroke="#000" stroke-width="0.3" class="k" xml:space="preserve">32: Hernia</text>
<circle cx="479.6" cy="2501.6" r="5.1" fill="#7c7c7c" fill-opacity="0.7"/>
<text x="500.9" y="2508.8" font-size="20.9" fill="#000" stroke="#000" stroke-width="0.3" class="k" xml:space="preserve">33: Infections of kidney</text>
<circle cx="479.6" cy="2533.3" r="5.1" fill="#7c7c7c" fill-opacity="0.7"/>
<text x="500.9" y="2540.5" font-size="20.9" fill="#000" stroke="#000" stroke-width="0.3" class="k" xml:space="preserve">34: Meningitis</text>
<circle cx="479.6" cy="2574.2" r="5.1" fill="#7c7c7c" fill-opacity="0.7"/>
<text x="500.9" y="2581.4" font-size="20.9" fill="#000" stroke="#000" stroke-width="0.3" class="k" xml:space="preserve">35: Atherosclerosis</text>
<circle cx="479.6" cy="2615.2" r="5.1" fill="#7c7c7c" fill-opacity="0.7"/>
<text x="500.9" y="2622.4" font-size="20.9" fill="#000" stroke="#000" stroke-width="0.3" class="k" xml:space="preserve">36: Diseases of appendix</text>
<circle cx="966.4" cy="2015" r="5.1" fill="#7c7c7c" fill-opacity="0.7"/>
<text x="987.7" y="2011.2" font-size="20.9" fill="#000" stroke="#000" stroke-width="0.3" class="k">37: Acute bronchitis</text>
<text x="987.7" y="2032.9" font-size="20.9" fill="#000" stroke="#000" stroke-width="0.3" class="k">and bronchiolitis</text>
<circle cx="966.4" cy="2046.5" r="5.1" fill="#7c7c7c" fill-opacity="0.7"/>
<text x="987.7" y="2053.7" font-size="20.9" fill="#000" stroke="#000" stroke-width="0.3" class="k" xml:space="preserve">38: Arthropod−borne viral encephalitis</text>
<circle cx="966.4" cy="2077.6" r="5.1" fill="#7c7c7c" fill-opacity="0.7"/>
<text x="987.7" y="2084.8" font-size="20.9" fill="#000" stroke="#000" stroke-width="0.3" class="k" xml:space="preserve">39: Certain conditions originating in the perinatal period</text>
<circle cx="966.4" cy="2118.7" r="5.1" fill="#7c7c7c" fill-opacity="0.7"/>
<text x="987.7" y="2125.9" font-size="20.9" fill="#000" stroke="#000" stroke-width="0.3" class="k" xml:space="preserve">40: Hyperplasia of prostate</text>
<circle cx="966.4" cy="2159.5" r="5.1" fill="#7c7c7c" fill-opacity="0.7"/>
<text x="987.7" y="2166.7" font-size="20.9" fill="#000" stroke="#000" stroke-width="0.3" class="k" xml:space="preserve">41: Inflammatory diseases of female pelvic organs</text>
<circle cx="966.4" cy="2191.1" r="5.1" fill="#7c7c7c" fill-opacity="0.7"/>
<text x="987.7" y="2198.3" font-size="20.9" fill="#000" stroke="#000" stroke-width="0.3" class="k" xml:space="preserve">42: Malaria</text>
<circle cx="966.4" cy="2222.2" r="5.1" fill="#7c7c7c" fill-opacity="0.7"/>
<text x="987.7" y="2229.4" font-size="20.9" fill="#000" stroke="#000" stroke-width="0.3" class="k" xml:space="preserve">43: Meningococcal infection</text>
<circle cx="966.4" cy="2263.1" r="5.1" fill="#7c7c7c" fill-opacity="0.7"/>
<text x="987.7" y="2259.3" font-size="20.9" fill="#000" stroke="#000" stroke-width="0.3" class="k">44: Operations of war</text>
<text x="987.7" y="2281" font-size="20.9" fill="#000" stroke="#000" stroke-width="0.3" class="k">and their sequelae</text>
<circle cx="966.4" cy="2304.3" r="5.1" fill="#7c7c7c" fill-opacity="0.7"/>
<text x="987.7" y="2300.5" font-size="20.9" fill="#000" stroke="#000" stroke-width="0.3" class="k">45: Pneumoconioses</text>
<text x="987.7" y="2322.2" font-size="20.9" fill="#000" stroke="#000" stroke-width="0.3" class="k">and chemical effects</text>
<circle cx="966.4" cy="2335.6" r="5.1" fill="#7c7c7c" fill-opacity="0.7"/>
<text x="987.7" y="2342.8" font-size="20.9" fill="#000" stroke="#000" stroke-width="0.3" class="k" xml:space="preserve">46: Salmonella infections</text>
<circle cx="966.4" cy="2366.8" r="5.1" fill="#7c7c7c" fill-opacity="0.7"/>
<text x="987.7" y="2363" font-size="20.9" fill="#000" stroke="#000" stroke-width="0.3" class="k">47: Scarlet fever</text>
<text x="987.7" y="2384.7" font-size="20.9" fill="#000" stroke="#000" stroke-width="0.3" class="k">and erysipelas</text>
<circle cx="966.4" cy="2407.9" r="5.1" fill="#7c7c7c" fill-opacity="0.7"/>
<text x="987.7" y="2404.1" font-size="20.9" fill="#000" stroke="#000" stroke-width="0.3" class="k">48: Shigellosis</text>
<text x="987.7" y="2425.8" font-size="20.9" fill="#000" stroke="#000" stroke-width="0.3" class="k">and amebiasis</text>
<circle cx="966.4" cy="2449" r="5.1" fill="#7c7c7c" fill-opacity="0.7"/>
<text x="987.7" y="2456.2" font-size="20.9" fill="#000" stroke="#000" stroke-width="0.3" class="k" xml:space="preserve">49: Syphilis</text>
<circle cx="966.4" cy="2480.4" r="5.1" fill="#7c7c7c" fill-opacity="0.7"/>
<text x="987.7" y="2487.6" font-size="20.9" fill="#000" stroke="#000" stroke-width="0.3" class="k" xml:space="preserve">50: Tuberculosis</text>
<circle cx="966.4" cy="2501.6" r="5.1" fill="#7c7c7c" fill-opacity="0.7"/>
<text x="987.7" y="2508.8" font-size="20.9" fill="#000" stroke="#000" stroke-width="0.3" class="k" xml:space="preserve">51: Measles</text>
<circle cx="966.4" cy="2533.3" r="5.1" fill="#7c7c7c" fill-opacity="0.7"/>
<text x="987.7" y="2540.5" font-size="20.9" fill="#000" stroke="#000" stroke-width="0.3" class="k" xml:space="preserve">52: Whooping cough</text>
<circle cx="966.4" cy="2574.2" r="5.1" fill="#7c7c7c" fill-opacity="0.7"/>
<text x="987.7" y="2581.4" font-size="20.9" fill="#000" stroke="#000" stroke-width="0.3" class="k" xml:space="preserve">53: Acute poliomyelitis</text>
</svg>
</body></html>
